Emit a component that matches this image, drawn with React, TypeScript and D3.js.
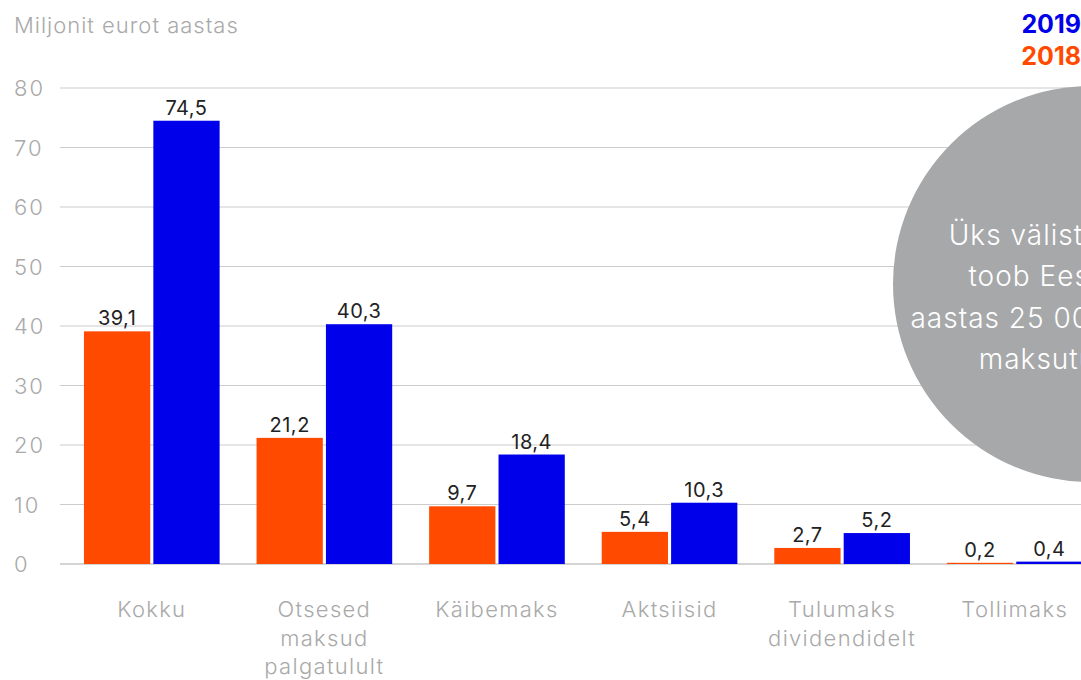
import React from "react";
import * as d3 from "d3";

const categories: string[][] = [
  ["Kokku"],
  ["Otsesed", "maksud", "palgatulult"],
  ["Käibemaks"],
  ["Aktsiisid"],
  ["Tulumaks", "dividendidelt"],
  ["Tollimaks"],
];
const categoryKeys = ["Kokku", "Otsesed", "Käibemaks", "Aktsiisid", "Tulumaks", "Tollimaks"];
const values2018 = [39.1, 21.2, 9.7, 5.4, 2.7, 0.2];
const values2019 = [74.5, 40.3, 18.4, 10.3, 5.2, 0.4];
const seriesKeys = ["2018", "2019"];
const yTicks = [0, 10, 20, 30, 40, 50, 60, 70, 80];
const bubbleLines = ["Üks välistalent", "toob Eestile", "aastas 25 000 eurot", "maksutulu"];

const W = 1081;
const H = 680;
const ORANGE = "#FF4A00";
const BLUE = "#0000EA";
const GREY = "#A9A9A9";
const FONT = "Inter, 'Open Sans', sans-serif";

export default function App() {
  const y = d3.scaleLinear().domain([0, 80]).range([564, 88]);
  const x0 = d3
    .scaleBand<string>()
    .domain(categoryKeys)
    .range([65.5, 1101])
    .paddingInner(0.214)
    .paddingOuter(0.107);
  const x1 = d3.scaleBand<string>().domain(seriesKeys).range([0, x0.bandwidth()]).paddingInner(0.045);
  const fmt = (v: number) => v.toFixed(1).replace(".", ",");
  const colors: Record<string, string> = { "2018": ORANGE, "2019": BLUE };

  return (
    <svg width={W} height={H} style={{ position: "absolute", left: 0, top: 0 }} fontFamily={FONT}>
      <text x={14} y={33} fontSize={22} fill={GREY} fontWeight={300} letterSpacing={1}>
        Miljonit eurot aastas
      </text>
      {yTicks.map((t) => (
        <g key={t}>
          <line x1={60} x2={W} y1={y(t)} y2={y(t)} stroke={t === 0 ? "#AAAAAA" : "#CCCCCC"} strokeWidth={1.2} />
          <text x={14} y={y(t) + 8} fontSize={22} fill={GREY} fontWeight={300} letterSpacing={2}>
            {t}
          </text>
        </g>
      ))}
      {categoryKeys.map((c, i) => {
        const gx = x0(c)!;
        const vals: Record<string, number> = { "2018": values2018[i], "2019": values2019[i] };
        return (
          <g key={c}>
            {seriesKeys.map((s) => {
              const bx = gx + x1(s)!;
              const v = vals[s];
              return (
                <g key={s}>
                  <rect x={bx} y={y(v)} width={x1.bandwidth()} height={y(0) - y(v)} fill={colors[s]} />
                  <text
                    x={bx + x1.bandwidth() / 2}
                    y={y(v) - 6}
                    textAnchor="middle"
                    fontSize={20}
                    fill="#222"
                    fontWeight={400}
                    letterSpacing={0.5}
                  >
                    {fmt(v)}
                  </text>
                </g>
              );
            })}
            <text textAnchor="middle" fontSize={22} fill={GREY} fontWeight={300} letterSpacing={1.3}>
              {categories[i].map((l, j) => (
                <tspan key={j} x={gx + x0.bandwidth() / 2} y={617 + j * 28.5}>
                  {l}
                </tspan>
              ))}
            </text>
          </g>
        );
      })}
      <circle cx={1091} cy={284} r={198} fill="#A7A8AA" />
      <text textAnchor="middle" fontSize={28} fill="#FFFFFF" fontWeight={300} letterSpacing={1}>
        {bubbleLines.map((l, j) => (
          <tspan key={j} x={1050} y={245 + j * 41.3}>
            {l}
          </tspan>
        ))}
      </text>
      <text x={W} y={33} textAnchor="end" fontSize={25} fontWeight={700} fill={BLUE}>
        2019
      </text>
      <text x={W} y={65} textAnchor="end" fontSize={25} fontWeight={700} fill={ORANGE}>
        2018
      </text>
    </svg>
  );
}
